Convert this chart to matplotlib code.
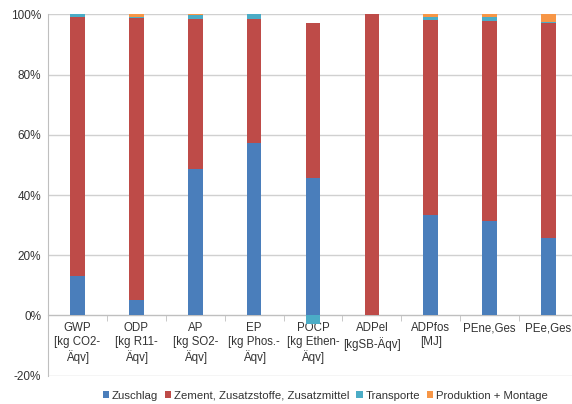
import matplotlib
matplotlib.use("Agg")
import matplotlib.pyplot as plt
import numpy as np

plt.rcParams['font.family'] = ['Liberation Sans', 'DejaVu Sans']

categories = ["GWP\n[kg CO2-\nÄqv]", "ODP\n[kg R11-\nÄqv]", "AP\n[kg SO2-\nÄqv]",
              "EP\n[kg Phos.-\nÄqv]", "POCP\n[kg Ethen-\nÄqv]", "ADPel\n[kgSB-Äqv]",
              "ADPfos\n[MJ]", "PEne,Ges", "PEe,Ges"]

# Anteile in Prozent
zuschlag = [13.2, 5.0, 48.7, 57.4, 45.8, 0.3, 33.2, 31.5, 25.6]
zement = [85.8, 93.9, 49.9, 41.2, 51.4, 99.7, 64.8, 66.3, 71.5]
transporte = [1.0, 0.2, 1.2, 1.4, -2.8, 0.0, 1.1, 1.2, 0.4]
produktion = [0.0, 0.9, 0.2, 0.0, 0.0, 0.0, 0.9, 1.0, 2.5]

series = [
    ("Zuschlag", zuschlag, "#4A7EBB"),
    ("Zement, Zusatzstoffe, Zusatzmittel", zement, "#BE4B48"),
    ("Transporte", transporte, "#4BACC6"),
    ("Produktion + Montage", produktion, "#F79646"),
]

fig = plt.figure(figsize=(5.72, 4.04), dpi=100)
ax = fig.add_axes([48 / 572, 1 - 375.7 / 404, 530 / 572, 361.4 / 404])

x = np.arange(len(categories))
pos_bottom = np.zeros(len(categories))
neg_bottom = np.zeros(len(categories))
for name, vals, color in series:
    vals = np.array(vals)
    bottom = np.where(vals >= 0, pos_bottom, neg_bottom)
    ax.bar(x, vals, 0.25, bottom=bottom, color=color, label=name, zorder=3)
    pos_bottom += np.where(vals >= 0, vals, 0)
    neg_bottom += np.where(vals < 0, vals, 0)

ax.set_xlim(-0.5, len(categories) - 0.5)
ax.set_ylim(-20, 100)
yt = np.arange(-20, 101, 20)
ax.set_yticks(yt)
ax.set_yticklabels([f"{v}%" for v in yt])
ax.yaxis.grid(True, color="#D0D0D0", linewidth=1, zorder=0)
ax.tick_params(axis="y", length=0, pad=5, labelsize=8.5, labelcolor="#333333")

ax.spines["bottom"].set_position(("data", 0))
ax.spines["bottom"].set_color("#BFBFBF")
ax.spines["left"].set_color("#BFBFBF")
ax.spines["top"].set_visible(False)
ax.spines["right"].set_visible(False)

ax.set_xticks(x)
ax.set_xticklabels(categories, linespacing=1.2)
ax.set_xticks(np.arange(-0.5, len(categories), 1), minor=True)
ax.tick_params(axis="x", which="major", length=0, pad=5, labelsize=8.3, labelcolor="#333333")
ax.tick_params(axis="x", which="minor", length=4, color="#BFBFBF", direction="out")

fig.legend(loc="center", bbox_to_anchor=(0.569, 0.02), ncol=4, frameon=False,
           fontsize=8.2, handlelength=0.55, handleheight=0.55, handletextpad=0.25,
           columnspacing=0.6, labelcolor="#333333")

fig.savefig("out.png", dpi=100)
